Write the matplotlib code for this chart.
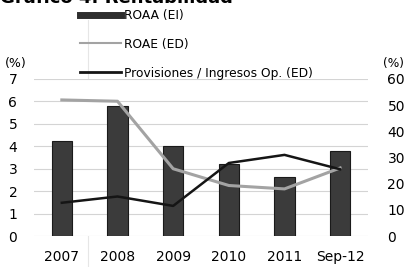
import matplotlib
matplotlib.use("Agg")
import matplotlib.pyplot as plt
from matplotlib.lines import Line2D
import numpy as np

plt.rcParams['font.family'] = ['DejaVu Sans']

categories = ["2007", "2008", "2009", "2010", "2011", "Sep-12"]
roaa = [4.25, 5.8, 4.0, 3.2, 2.65, 3.8]          # left axis (%)
roae = [52.0, 51.5, 25.7, 19.3, 18.0, 26.0]      # right axis (%)
provisiones = [12.7, 15.1, 11.5, 27.9, 31.0, 25.5]  # right axis (%)
left_ticks = [0, 1, 2, 3, 4, 5, 6, 7]
right_ticks = [0, 10, 20, 30, 40, 50, 60]

W, H = 406, 267
fig = plt.figure(figsize=(W / 100, H / 100), dpi=100)
ax = fig.add_axes([34 / W, 1 - 236 / H, (368 - 34) / W, (236 - 79) / H])
ax2 = ax.twinx()

x = np.arange(len(categories))
ax.bar(x, roaa, width=0.36, color='#3b3b3b', edgecolor='#1a1a1a', linewidth=0.8, zorder=3)
ax.set_ylim(0, 7)
ax.set_xlim(-0.5, len(categories) - 0.5)
ax.set_yticks(left_ticks)
ax.yaxis.grid(True, color='#d4d4d4', linewidth=0.8)
ax.set_axisbelow(True)
ax.set_xticks(x)
ax.set_xticklabels(categories)
ax.tick_params(axis='x', length=0, pad=10, labelsize=10)
ax.tick_params(axis='y', length=0, pad=12, labelsize=10)
for s in ax.spines.values():
    s.set_visible(False)

ax2.plot(x, roae, color='#a3a3a3', linewidth=2.2, zorder=4)
ax2.plot(x, provisiones, color='#151515', linewidth=1.8, zorder=5)
ax2.set_ylim(0, 60)
ax2.set_yticks(right_ticks)
ax2.tick_params(axis='y', length=0, pad=14, labelsize=10)
for s in ax2.spines.values():
    s.set_visible(False)

ax.set_zorder(1)
ax2.set_zorder(2)
ax2.patch.set_visible(False)

fig.text(5 / W, 1 - 64 / H, "(%)", fontsize=9, va='center', ha='left')
fig.text(383 / W, 1 - 64 / H, "(%)", fontsize=8.8, va='center', ha='left')

fig.text(0.0, 1 - 3 / H, "Gráfico 4: Rentabilidad", fontsize=13,
         fontweight='bold', va='baseline', ha='left')

# faint scan fold line
fig.add_artist(Line2D([88 / W, 88 / W], [0, 1 - 20 / H], transform=fig.transFigure,
                      color='#e6e6e6', linewidth=0.8, zorder=0))

handles = [
    Line2D([], [], color='#2e2e2e', linewidth=5),
    Line2D([], [], color='#a3a3a3', linewidth=1.5),
    Line2D([], [], color='#151515', linewidth=2),
]
labels = ["ROAA (EI)", "ROAE (ED)", "Provisiones / Ingresos Op. (ED)"]
leg = fig.legend(handles, labels, loc='upper left',
                 bbox_to_anchor=(75 / W, 1 - 4 / H), bbox_transform=fig.transFigure,
                 frameon=False, fontsize=8.8, handlelength=3.4, handletextpad=0.2,
                 labelspacing=1.3, borderaxespad=0)
leg.set_zorder(10)

fig.savefig("out.png", dpi=100)
